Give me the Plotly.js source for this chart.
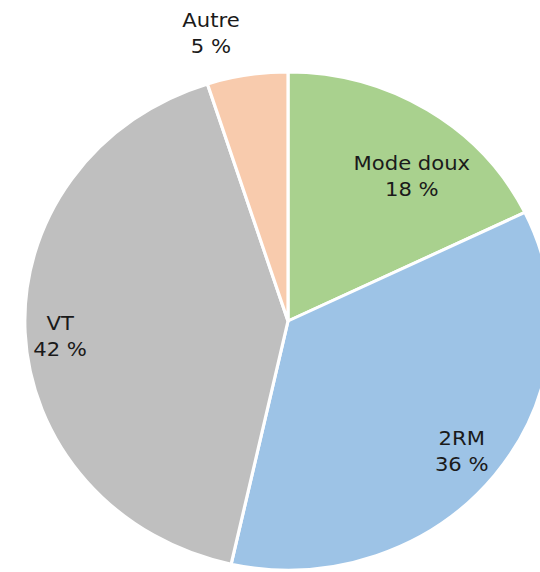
<!DOCTYPE html>
<html>
<head>
<meta charset="utf-8">
<script src="https://cdn.plot.ly/plotly-3.0.1.min.js"></script>
<style>
  html, body { margin: 0; padding: 0; width: 540px; height: 572px; overflow: hidden; background: #fff; }
  #chart { width: 576px; height: 572px; transform: scaleX(1.057); transform-origin: 288px 0; }
</style>
</head>
<body>
<div id="chart"></div>
<script>
const categories = ['Mode doux', '2RM', 'VT', 'Autre'];
const shares = [18, 36, 42, 5];
const colors = ['#A9D18E', '#9DC3E6', '#BFBFBF', '#F8CBAD'];

// label anchor positions (paper coordinates), one per category
const labelX = [0.734, 0.831, 0.067, 0.354];
const labelY = [0.791, 0.239, 0.470, 1.078];

const trace = {
  type: 'pie',
  labels: categories,
  values: shares,
  sort: false,
  direction: 'clockwise',
  rotation: 0,
  marker: { colors: colors, line: { color: '#ffffff', width: 3 } },
  textinfo: 'none',
  hoverinfo: 'none',
  showlegend: false
};

const annotations = categories.map((c, i) => ({
  xref: 'paper', yref: 'paper',
  x: labelX[i], y: labelY[i],
  xanchor: 'center', yanchor: 'middle',
  showarrow: false,
  align: 'center',
  text: c + '<br>' + shares[i] + ' %',
  font: { family: 'DejaVu Sans, Verdana, sans-serif', size: 20, color: '#1a1a1a' }
}));

const layout = {
  width: 576,
  height: 572,
  margin: { l: 39, r: 39, t: 72, b: 2 },
  paper_bgcolor: '#ffffff',
  plot_bgcolor: '#ffffff',
  showlegend: false,
  annotations: annotations
};

Plotly.newPlot('chart', [trace], layout, { staticPlot: true, displayModeBar: false });
</script>
</body>
</html>
